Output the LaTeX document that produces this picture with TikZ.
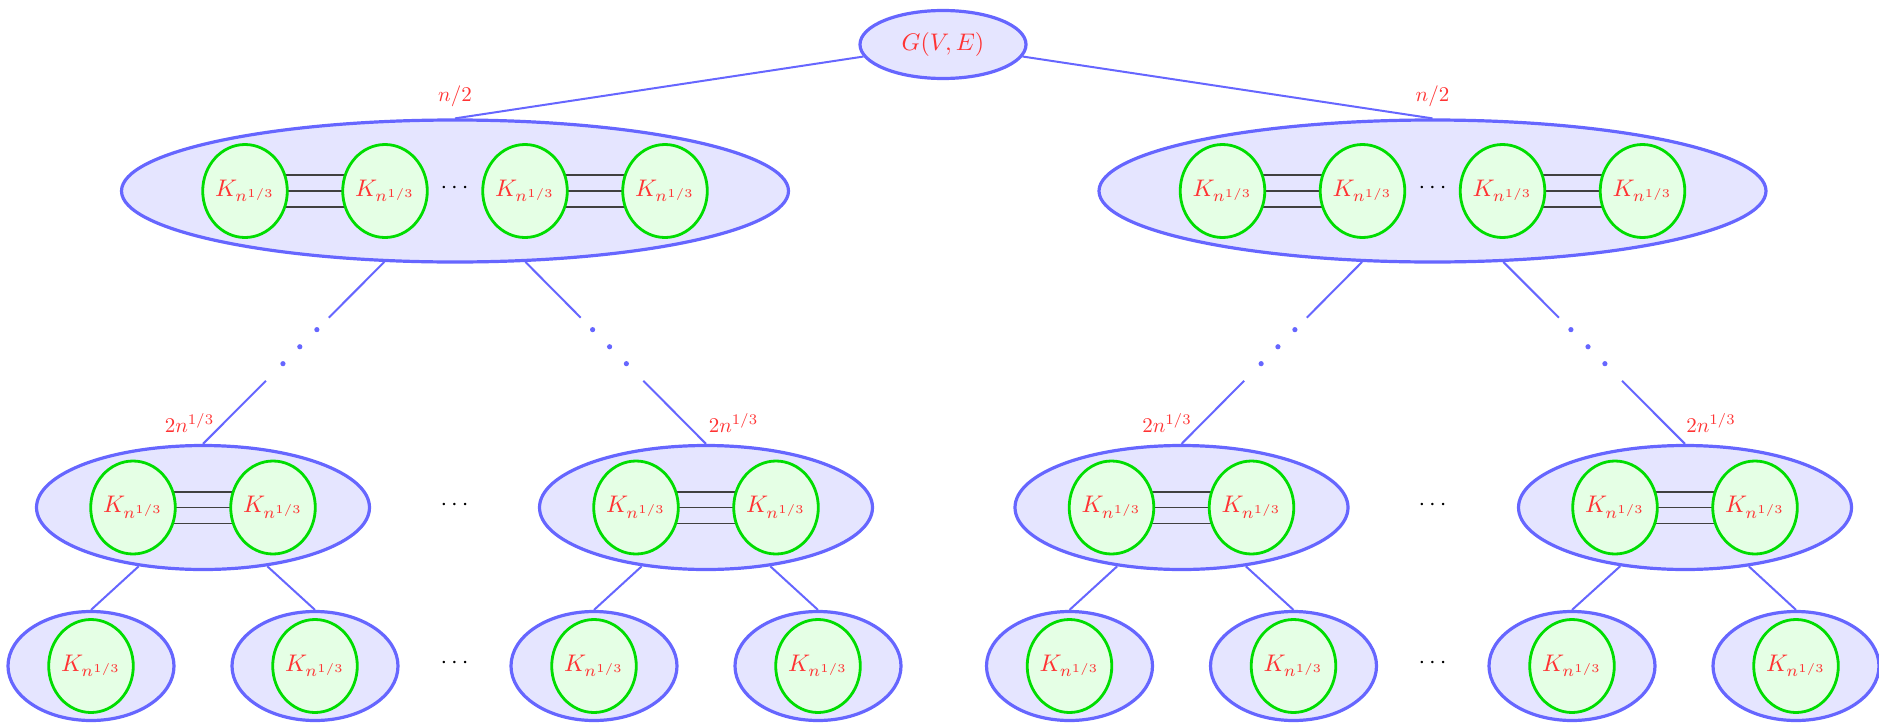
\documentclass[tikz,border=0pt]{standalone}
\usepackage{graphicx}
\usetikzlibrary{shapes.geometric}
\pgfdeclarelayer{bglayer}
\pgfdeclarelayer{midlayer}
\pgfsetlayers{bglayer,midlayer,main}
\definecolor{bblue}{RGB}{102,102,255}
\definecolor{bfill}{RGB}{229,229,255}
\definecolor{ggreen}{RGB}{0,221,0}
\definecolor{gfill}{RGB}{229,255,229}
\definecolor{rred}{RGB}{255,51,51}
\newcommand{\KK}{\scalebox{2.4}{$K_{n^{1/3}}$}}
\newcommand{\BigT}[1]{\scalebox{2.4}{#1}}
\newcommand{\LblT}[1]{\scalebox{2.1}{#1}}
\tikzset{
  outerel/.style={ellipse, draw=bblue, fill=bfill, line width=3.2pt, inner sep=0pt},
  rootel/.style={outerel, minimum width=166pt, minimum height=68pt, text=rred},
  lvlone/.style={outerel, minimum width=667pt, minimum height=142pt},
  lvltwo/.style={outerel, minimum width=333pt, minimum height=124pt},
  leafel/.style={outerel, minimum width=166pt, minimum height=109pt},
  kel/.style={ellipse, draw=ggreen, fill=gfill, line width=2.8pt, minimum width=81pt, minimum height=93pt, inner sep=0pt, text=rred},
  edgeline/.style={draw=bblue, line width=2pt},
  triple/.style={draw=black!75, line width=1.6pt},
  lbl/.style={text=rred, inner sep=0pt},
  dotsnode/.style={inner sep=0pt},
  bdot/.style={fill=bblue},
}
\begin{document}
\begin{tikzpicture}[x=1pt,y=-1pt]
\useasboundingbox (0,0) rectangle (1879,723);

\begin{pgfonlayer}{bglayer}
% root
\node[rootel] (root) at (943,44.5) {\BigT{$G(V,E)$}};

% level 1
\node[lvlone] (La) at (455,191) {};
\node[lvlone] (Lb) at (1432.5,191) {};

% level 2
\node[lvltwo] (A) at (203,507.5) {};
\node[lvltwo] (B) at (706,507.5) {};
\node[lvltwo] (C) at (1181.5,507.5) {};
\node[lvltwo] (D) at (1685,507.5) {};

% leaves
\node[leafel] (A1) at (91,666) {};
\node[leafel] (A2) at (315,666) {};
\node[leafel] (B1) at (594,666) {};
\node[leafel] (B2) at (818,666) {};
\node[leafel] (C1) at (1069.5,666) {};
\node[leafel] (C2) at (1293.5,666) {};
\node[leafel] (D1) at (1572,666) {};
\node[leafel] (D2) at (1796,666) {};
\end{pgfonlayer}

% green K nodes, level 1
\node[kel] (La1) at (245,191) {\KK};
\node[kel] (La2) at (385,191) {\KK};
\node[kel] (La3) at (525,191) {\KK};
\node[kel] (La4) at (665,191) {\KK};
\node[kel] (Lb1) at (1222.5,191) {\KK};
\node[kel] (Lb2) at (1362.5,191) {\KK};
\node[kel] (Lb3) at (1502.5,191) {\KK};
\node[kel] (Lb4) at (1642.5,191) {\KK};

% green K nodes, level 2
\node[kel] (Ak1) at (133,507.5) {\KK};
\node[kel] (Ak2) at (273,507.5) {\KK};
\node[kel] (Bk1) at (636,507.5) {\KK};
\node[kel] (Bk2) at (776,507.5) {\KK};
\node[kel] (Ck1) at (1111.5,507.5) {\KK};
\node[kel] (Ck2) at (1251.5,507.5) {\KK};
\node[kel] (Dk1) at (1615,507.5) {\KK};
\node[kel] (Dk2) at (1755,507.5) {\KK};

% green K nodes, leaves
\node[kel] (A1k) at (91,666) {\KK};
\node[kel] (A2k) at (315,666) {\KK};
\node[kel] (B1k) at (594,666) {\KK};
\node[kel] (B2k) at (818,666) {\KK};
\node[kel] (C1k) at (1069.5,666) {\KK};
\node[kel] (C2k) at (1293.5,666) {\KK};
\node[kel] (D1k) at (1572,666) {\KK};
\node[kel] (D2k) at (1796,666) {\KK};

% triple lines (behind the green nodes)
\begin{pgfonlayer}{midlayer}
\foreach \p/\q in {La1/La2, La3/La4, Lb1/Lb2, Lb3/Lb4, Ak1/Ak2, Bk1/Bk2, Ck1/Ck2, Dk1/Dk2}{
  \draw[triple] ([yshift=15.8pt]\p.center) -- ([yshift=15.8pt]\q.center);
  \draw[triple] (\p.center) -- (\q.center);
  \draw[triple] ([yshift=-15.8pt]\p.center) -- ([yshift=-15.8pt]\q.center);
}
\end{pgfonlayer}

% dots
\node[dotsnode] (d1) at (454.5,188) {\BigT{$\cdots$}};
\node[dotsnode] (d2) at (1432.5,188) {\BigT{$\cdots$}};
\node[dotsnode] (d3) at (454.5,505) {\BigT{$\cdots$}};
\node[dotsnode] (d4) at (1432.5,505) {\BigT{$\cdots$}};
\node[dotsnode] (d5) at (454.5,663) {\BigT{$\cdots$}};
\node[dotsnode] (d6) at (1432.5,663) {\BigT{$\cdots$}};

% root to level 1
\draw[edgeline] (root) -- (La.north);
\draw[edgeline] (root) -- (Lb.north);

% level 1 to level 2 (interrupted by dots)
\foreach \p/\c in {La/A, La/B, Lb/C, Lb/D}{
  \path (\p) -- (\c.north)
    coordinate[pos=0.306] (\c s1)
    coordinate[pos=0.372] (\c d1)
    coordinate[pos=0.466] (\c d2)
    coordinate[pos=0.559] (\c d3)
    coordinate[pos=0.653] (\c s2);
  \draw[edgeline] (\p) -- (\c s1);
  \draw[edgeline] (\c s2) -- (\c.north);
  \fill[bdot] (\c d1) circle[radius=2.6pt];
  \fill[bdot] (\c d2) circle[radius=2.6pt];
  \fill[bdot] (\c d3) circle[radius=2.6pt];
}

% level 2 to leaves
\foreach \p/\c in {A/A1, A/A2, B/B1, B/B2, C/C1, C/C2, D/D1, D/D2}{
  \draw[edgeline] (\p) -- (\c.north);
}

% labels
\node[lbl] (n1) at (455,96) {\LblT{$n/2$}};
\node[lbl] (n2) at (1432.5,96) {\LblT{$n/2$}};
\node[lbl] (lA) at (189.5,423) {\LblT{$2n^{1/3}$}};
\node[lbl] (lB) at (733.5,423) {\LblT{$2n^{1/3}$}};
\node[lbl] (lC) at (1167,423) {\LblT{$2n^{1/3}$}};
\node[lbl] (lD) at (1711,423) {\LblT{$2n^{1/3}$}};
\end{tikzpicture}
\end{document}
